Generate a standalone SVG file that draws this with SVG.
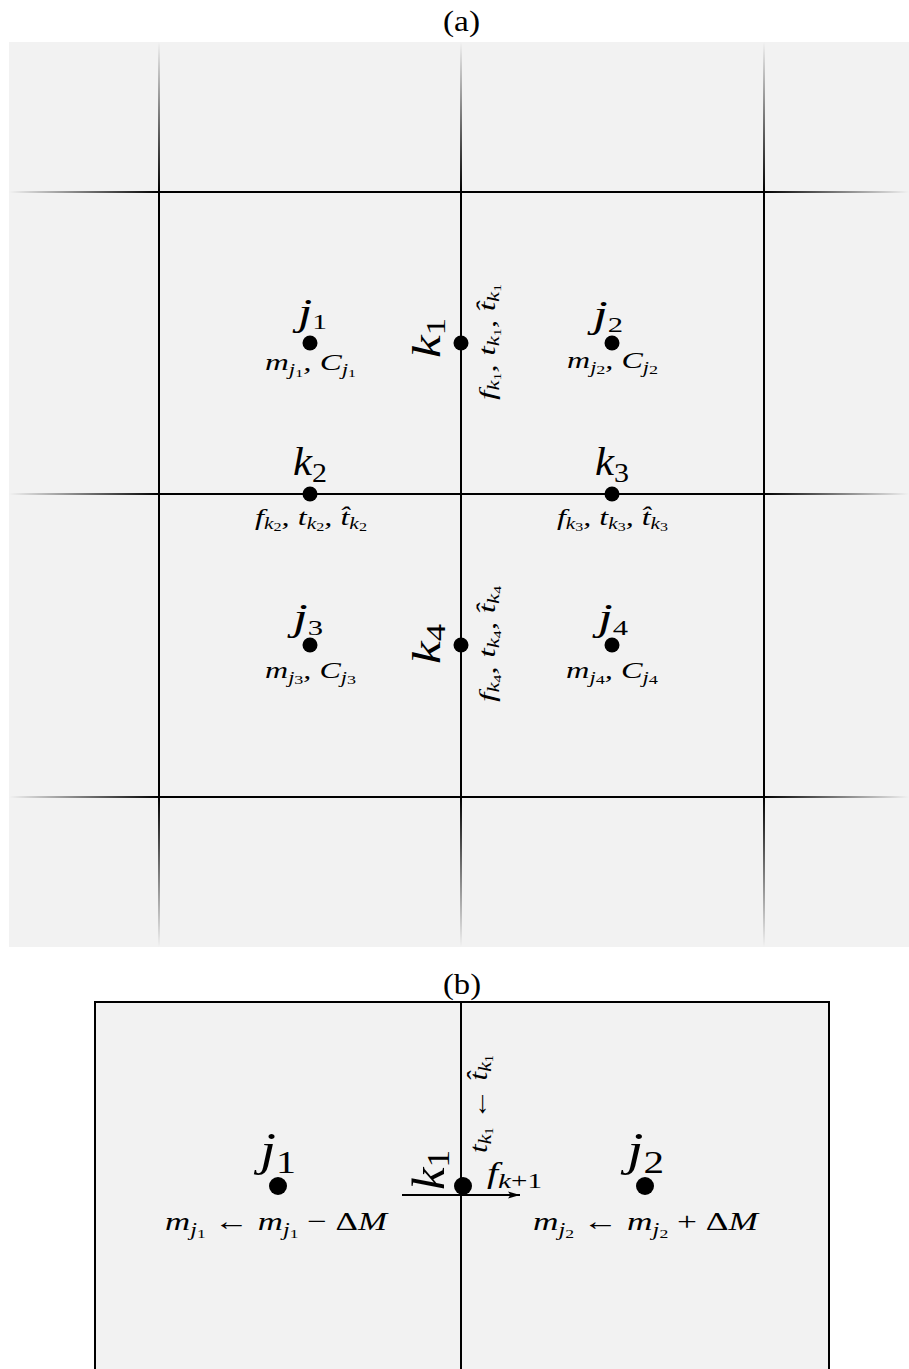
<svg xmlns="http://www.w3.org/2000/svg" width="909" height="1369" viewBox="0 0 909 1369">
<style>
.m{font-family:"Liberation Serif","DejaVu Serif",serif;font-style:italic;fill:#000}
.r{font-style:normal}
.ln{stroke:#000;stroke-width:2;fill:none}
.dot{fill:#000}
</style>
<defs>
<linearGradient id="gL" gradientUnits="userSpaceOnUse" x1="9" y1="0" x2="159" y2="0"><stop offset="0" stop-color="#000" stop-opacity="0"/><stop offset="1" stop-color="#000" stop-opacity="1"/></linearGradient>
<linearGradient id="gR" gradientUnits="userSpaceOnUse" x1="909" y1="0" x2="764" y2="0"><stop offset="0" stop-color="#000" stop-opacity="0"/><stop offset="1" stop-color="#000" stop-opacity="1"/></linearGradient>
<linearGradient id="gT" gradientUnits="userSpaceOnUse" x1="0" y1="42" x2="0" y2="192"><stop offset="0" stop-color="#000" stop-opacity="0"/><stop offset="1" stop-color="#000" stop-opacity="1"/></linearGradient>
<linearGradient id="gB" gradientUnits="userSpaceOnUse" x1="0" y1="947" x2="0" y2="797"><stop offset="0" stop-color="#000" stop-opacity="0"/><stop offset="1" stop-color="#000" stop-opacity="1"/></linearGradient>
<marker id="ah" markerWidth="12" markerHeight="8" refX="12" refY="4" orient="auto" markerUnits="userSpaceOnUse"><path d="M0,0.5 L12,4 L0,7.5 L2.5,4 Z" fill="#000"/></marker>
</defs>
<rect width="909" height="1369" fill="#fff"/>
<g id="panel-a">
<rect x="9" y="42" width="900" height="905" fill="#f2f2f2"/>
<text class="m r" x="461.5" y="31" font-size="30" text-anchor="middle" textLength="37" lengthAdjust="spacingAndGlyphs">(a)</text>
</g>
<g id="panel-b">
<rect x="95" y="1002" width="734" height="380" fill="#f2f2f2" stroke="#000" stroke-width="2"/>
<text class="m r" x="462" y="994" font-size="30" text-anchor="middle" textLength="38" lengthAdjust="spacingAndGlyphs">(b)</text>
</g>
<g id="connectors">
<line class="ln" x1="159" y1="192" x2="764" y2="192"/>
<line class="ln" x1="159" y1="494" x2="764" y2="494"/>
<line class="ln" x1="159" y1="797" x2="764" y2="797"/>
<line class="ln" x1="159" y1="192" x2="159" y2="797"/>
<line class="ln" x1="461" y1="192" x2="461" y2="797"/>
<line class="ln" x1="764" y1="192" x2="764" y2="797"/>
<g stroke-width="2">
<line x1="9" y1="192" x2="159" y2="192" stroke="url(#gL)"/>
<line x1="9" y1="494" x2="159" y2="494" stroke="url(#gL)"/>
<line x1="9" y1="797" x2="159" y2="797" stroke="url(#gL)"/>
<line x1="764" y1="192" x2="909" y2="192" stroke="url(#gR)"/>
<line x1="764" y1="494" x2="909" y2="494" stroke="url(#gR)"/>
<line x1="764" y1="797" x2="909" y2="797" stroke="url(#gR)"/>
<line x1="159" y1="42" x2="159" y2="192" stroke="url(#gT)"/>
<line x1="461" y1="42" x2="461" y2="192" stroke="url(#gT)"/>
<line x1="764" y1="42" x2="764" y2="192" stroke="url(#gT)"/>
<line x1="159" y1="797" x2="159" y2="947" stroke="url(#gB)"/>
<line x1="461" y1="797" x2="461" y2="947" stroke="url(#gB)"/>
<line x1="764" y1="797" x2="764" y2="947" stroke="url(#gB)"/>
</g>
<line class="ln" x1="461" y1="1002" x2="461" y2="1369"/>
<line class="ln" x1="402" y1="1195" x2="520" y2="1195" marker-end="url(#ah)"/>
</g>
<g id="j1">
<circle class="dot" cx="310" cy="343" r="7.5"/>
<text class="m" x="312.5" y="325" font-size="38" text-anchor="middle" textLength="29" lengthAdjust="spacingAndGlyphs">j<tspan class="r" font-size="22" dy="4">1</tspan></text>
<text class="m" x="310.5" y="370" font-size="23" text-anchor="middle" textLength="91" lengthAdjust="spacingAndGlyphs">m<tspan font-size="16" dy="5">j</tspan><tspan class="r" font-size="11" dy="2">1</tspan><tspan dy="-7">, C</tspan><tspan font-size="16" dy="5">j</tspan><tspan class="r" font-size="11" dy="2">1</tspan></text>
</g>
<g id="j2">
<circle class="dot" cx="612" cy="343" r="7.5"/>
<text class="m" x="608" y="327" font-size="38" text-anchor="middle" textLength="30" lengthAdjust="spacingAndGlyphs">j<tspan class="r" font-size="22" dy="5">2</tspan></text>
<text class="m" x="612.5" y="368" font-size="23" text-anchor="middle" textLength="91" lengthAdjust="spacingAndGlyphs">m<tspan font-size="16" dy="5">j</tspan><tspan class="r" font-size="13" dy="1">2</tspan><tspan dy="-6">, C</tspan><tspan font-size="16" dy="5">j</tspan><tspan class="r" font-size="13" dy="1">2</tspan></text>
</g>
<g id="j3">
<circle class="dot" cx="310" cy="645" r="7.5"/>
<text class="m" x="308" y="630" font-size="38" text-anchor="middle" textLength="30" lengthAdjust="spacingAndGlyphs">j<tspan class="r" font-size="22" dy="5">3</tspan></text>
<text class="m" x="310.5" y="678" font-size="23" text-anchor="middle" textLength="91" lengthAdjust="spacingAndGlyphs">m<tspan font-size="16" dy="5">j</tspan><tspan class="r" font-size="13" dy="1">3</tspan><tspan dy="-6">, C</tspan><tspan font-size="16" dy="5">j</tspan><tspan class="r" font-size="13" dy="1">3</tspan></text>
</g>
<g id="j4">
<circle class="dot" cx="612" cy="645" r="7.5"/>
<text class="m" x="613" y="630" font-size="38" text-anchor="middle" textLength="30" lengthAdjust="spacingAndGlyphs">j<tspan class="r" font-size="22" dy="5">4</tspan></text>
<text class="m" x="612" y="678" font-size="23" text-anchor="middle" textLength="92" lengthAdjust="spacingAndGlyphs">m<tspan font-size="16" dy="5">j</tspan><tspan class="r" font-size="13" dy="1">4</tspan><tspan dy="-6">, C</tspan><tspan font-size="16" dy="5">j</tspan><tspan class="r" font-size="13" dy="1">4</tspan></text>
</g>
<g id="k1">
<circle class="dot" cx="461" cy="343" r="7.5"/>
<text class="m" transform="translate(440,338) rotate(-90)" font-size="40" text-anchor="middle" textLength="40" lengthAdjust="spacingAndGlyphs">k<tspan class="r" font-size="27" dy="5">1</tspan></text>
<text class="m" transform="translate(495,342) rotate(-90)" font-size="24" text-anchor="middle" textLength="116" lengthAdjust="spacingAndGlyphs">f<tspan font-size="16" dy="4">k</tspan><tspan class="r" font-size="11" dy="2">1</tspan><tspan dy="-6">, t</tspan><tspan font-size="16" dy="4">k</tspan><tspan class="r" font-size="11" dy="2">1</tspan><tspan dy="-6">, t̂</tspan><tspan font-size="16" dy="4">k</tspan><tspan class="r" font-size="11" dy="2">1</tspan></text>
</g>
<g id="k4">
<circle class="dot" cx="461" cy="645" r="7.5"/>
<text class="m" transform="translate(440,644) rotate(-90)" font-size="40" text-anchor="middle" textLength="40" lengthAdjust="spacingAndGlyphs">k<tspan class="r" font-size="27" dy="5">4</tspan></text>
<text class="m" transform="translate(495,644) rotate(-90)" font-size="24" text-anchor="middle" textLength="116" lengthAdjust="spacingAndGlyphs">f<tspan font-size="16" dy="4">k</tspan><tspan class="r" font-size="11" dy="2">4</tspan><tspan dy="-6">, t</tspan><tspan font-size="16" dy="4">k</tspan><tspan class="r" font-size="11" dy="2">4</tspan><tspan dy="-6">, t̂</tspan><tspan font-size="16" dy="4">k</tspan><tspan class="r" font-size="11" dy="2">4</tspan></text>
</g>
<g id="k2">
<circle class="dot" cx="310" cy="494" r="7.5"/>
<text class="m" x="310" y="475" font-size="40" text-anchor="middle" textLength="34" lengthAdjust="spacingAndGlyphs">k<tspan class="r" font-size="28" dy="7">2</tspan></text>
<text class="m" x="311" y="525" font-size="24" text-anchor="middle" textLength="112" lengthAdjust="spacingAndGlyphs">f<tspan font-size="16" dy="4">k</tspan><tspan class="r" font-size="12" dy="2">2</tspan><tspan dy="-6">, t</tspan><tspan font-size="16" dy="4">k</tspan><tspan class="r" font-size="12" dy="2">2</tspan><tspan dy="-6">, t̂</tspan><tspan font-size="16" dy="4">k</tspan><tspan class="r" font-size="12" dy="2">2</tspan></text>
</g>
<g id="k3">
<circle class="dot" cx="612" cy="494" r="7.5"/>
<text class="m" x="612" y="475" font-size="40" text-anchor="middle" textLength="34" lengthAdjust="spacingAndGlyphs">k<tspan class="r" font-size="28" dy="7">3</tspan></text>
<text class="m" x="612.5" y="525" font-size="24" text-anchor="middle" textLength="111" lengthAdjust="spacingAndGlyphs">f<tspan font-size="16" dy="4">k</tspan><tspan class="r" font-size="12" dy="2">3</tspan><tspan dy="-6">, t</tspan><tspan font-size="16" dy="4">k</tspan><tspan class="r" font-size="12" dy="2">3</tspan><tspan dy="-6">, t̂</tspan><tspan font-size="16" dy="4">k</tspan><tspan class="r" font-size="12" dy="2">3</tspan></text>
</g>
<g id="b-j1">
<circle class="dot" cx="278" cy="1186" r="9"/>
<text class="m" x="278" y="1165" font-size="46" text-anchor="middle" textLength="36" lengthAdjust="spacingAndGlyphs">j<tspan class="r" font-size="32" dy="8">1</tspan></text>
<text class="m" x="276" y="1230" font-size="26" text-anchor="middle" textLength="222" lengthAdjust="spacingAndGlyphs">m<tspan font-size="18" dy="6">j</tspan><tspan class="r" font-size="13" dy="2">1</tspan><tspan class="r" dy="-8"> ← </tspan>m<tspan font-size="18" dy="6">j</tspan><tspan class="r" font-size="13" dy="2">1</tspan><tspan class="r" dy="-8"> − Δ</tspan>M</text>
</g>
<g id="b-j2">
<circle class="dot" cx="645" cy="1186" r="9"/>
<text class="m" x="645.5" y="1165" font-size="46" text-anchor="middle" textLength="37" lengthAdjust="spacingAndGlyphs">j<tspan class="r" font-size="32" dy="8">2</tspan></text>
<text class="m" x="645.5" y="1230" font-size="26" text-anchor="middle" textLength="225" lengthAdjust="spacingAndGlyphs">m<tspan font-size="18" dy="6">j</tspan><tspan class="r" font-size="13" dy="2">2</tspan><tspan class="r" dy="-8"> ← </tspan>m<tspan font-size="18" dy="6">j</tspan><tspan class="r" font-size="13" dy="2">2</tspan><tspan class="r" dy="-8"> + Δ</tspan>M</text>
</g>
<g id="b-k1">
<circle class="dot" cx="463" cy="1186" r="9"/>
<text class="m" transform="translate(444,1170) rotate(-90)" font-size="46" text-anchor="middle" textLength="40" lengthAdjust="spacingAndGlyphs">k<tspan class="r" font-size="32" dy="5">1</tspan></text>
<text class="m" transform="translate(487,1104) rotate(-90)" font-size="26" text-anchor="middle" textLength="98" lengthAdjust="spacingAndGlyphs">t<tspan font-size="18" dy="4">k</tspan><tspan class="r" font-size="12" dy="2">1</tspan><tspan class="r" dy="-6"> ← </tspan>t̂<tspan font-size="18" dy="4">k</tspan><tspan class="r" font-size="12" dy="2">1</tspan></text>
<text class="m" x="487" y="1183" font-size="30" textLength="55" lengthAdjust="spacingAndGlyphs">f<tspan font-size="22" dy="5">k</tspan><tspan class="r" font-size="22">+1</tspan></text>
</g>
</svg>
